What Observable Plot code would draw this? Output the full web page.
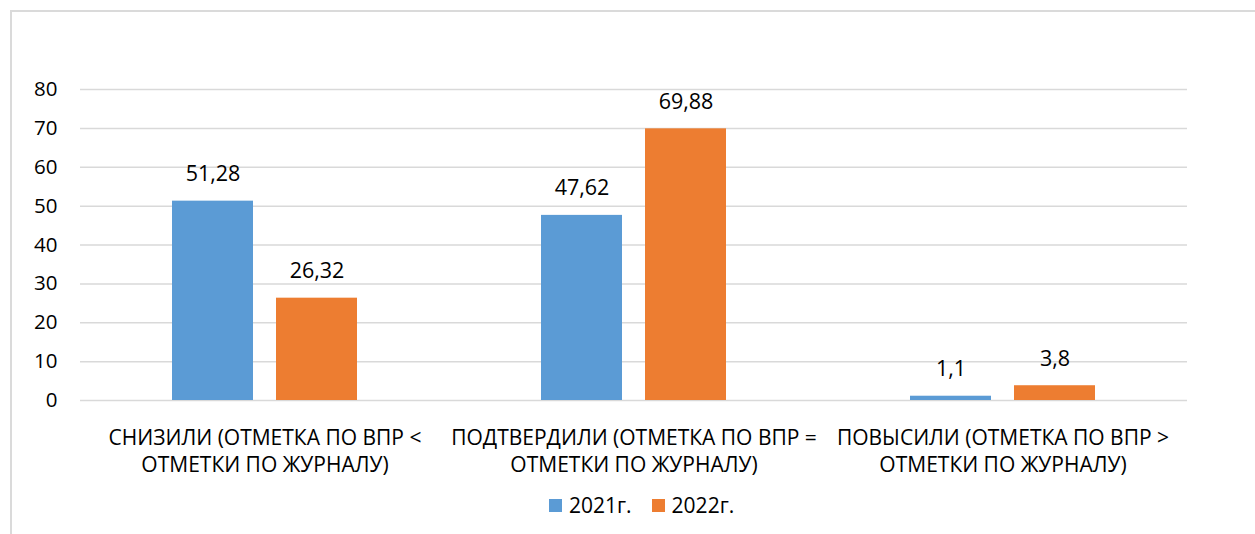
<!DOCTYPE html>
<html>
<head>
<meta charset="utf-8">
<script src="https://cdn.jsdelivr.net/npm/d3@7"></script>
<script src="https://cdn.jsdelivr.net/npm/@observablehq/plot@0.6"></script>
<style>
  html, body { margin: 0; padding: 0; background: #fff; overflow: hidden; }
  body { width: 1255px; height: 534px; position: relative; font-family: "Open Sans", sans-serif; }
  #frame { position: absolute; left: 10px; top: 10px; width: 1400px; height: 800px; border: 2px solid #dadada; box-sizing: border-box; }
  #chart { position: absolute; left: 0; top: 0; }
  #legend { position: absolute; left: 549px; top: 491px; display: flex; align-items: center; font-size: 21px; color: #000; }
  #legend .item { display: flex; align-items: center; margin-right: 20px; }
  #legend .sw { width: 13px; height: 13px; margin-right: 7px; }
</style>
</head>
<body>
<div id="frame"></div>
<div id="chart"></div>
<div id="legend"></div>
<script>
const categories = [
  "СНИЗИЛИ (ОТМЕТКА ПО ВПР <\nОТМЕТКИ ПО ЖУРНАЛУ)",
  "ПОДТВЕРДИЛИ (ОТМЕТКА ПО ВПР =\nОТМЕТКИ ПО ЖУРНАЛУ)",
  "ПОВЫСИЛИ (ОТМЕТКА ПО ВПР >\nОТМЕТКИ ПО ЖУРНАЛУ)"
];
const years = ["2021г.", "2022г."];
const values2021 = [51.28, 47.62, 1.1];
const values2022 = [26.32, 69.88, 3.8];
const labels2021 = ["51,28", "47,62", "1,1"];
const labels2022 = ["26,32", "69,88", "3,8"];
const yTicks = [0, 10, 20, 30, 40, 50, 60, 70, 80];
const colors = ["#5B9BD5", "#ED7D31"];

const data = categories.flatMap((c, i) => [
  {cat: c, year: years[0], value: values2021[i], label: labels2021[i]},
  {cat: c, year: years[1], value: values2022[i], label: labels2022[i]}
]);

const chart = Plot.plot({
  width: 1255,
  height: 480,
  marginTop: 89,
  marginBottom: 80,
  marginLeft: 80,
  marginRight: 68,
  style: {fontFamily: "'Open Sans', sans-serif", fontSize: "20px", color: "#000", background: "transparent"},
  fx: {domain: categories, padding: 0, label: null},
  x: {domain: years, paddingInner: 0.219, paddingOuter: 0.867, axis: null},
  y: {domain: [0, 80], label: null},
  color: {domain: years, range: colors},
  marks: [
    Plot.gridY(yTicks, {stroke: "#d9d9d9", strokeOpacity: 1, strokeWidth: 1.5}),
    Plot.axisY(yTicks, {tickSize: 0, tickPadding: 23, label: null, fill: "#000", fontSize: 20.5}),
    Plot.axisFx({anchor: "bottom", tickSize: 0, tickPadding: 25, label: null, lineHeight: 1.3, fill: "#000", fontSize: 21}),
    Plot.barY(data, {fx: "cat", x: "year", y: "value", fill: "year"}),
    Plot.text(data, {fx: "cat", x: "year", y: "value", text: "label", dy: -27, fill: "#000", fontSize: 21.5})
  ]
});
document.getElementById("chart").appendChild(chart);

const legend = document.getElementById("legend");
years.forEach((y, i) => {
  const item = document.createElement("div");
  item.className = "item";
  const sw = document.createElement("div");
  sw.className = "sw";
  sw.style.background = colors[i];
  const t = document.createElement("span");
  t.textContent = y;
  item.appendChild(sw);
  item.appendChild(t);
  legend.appendChild(item);
});
</script>
</body>
</html>
